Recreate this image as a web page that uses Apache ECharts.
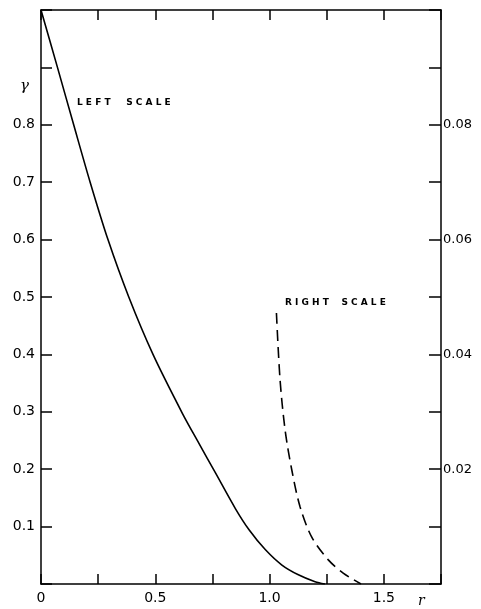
<!DOCTYPE html>
<html>
<head>
<meta charset="utf-8">
<script src="https://cdn.jsdelivr.net/npm/echarts@6/dist/echarts.min.js"></script>
<style>html,body{margin:0;padding:0;background:#fff}#c{width:481px;height:609px}</style>
</head>
<body>
<div id="c"></div>
<script>
// r values and gamma (left scale) for solid curve
var solidR = [0, 0.072, 0.143, 0.215, 0.293, 0.384, 0.49, 0.619, 0.691, 0.764, 0.851, 0.911, 0.981, 1.054, 1.126, 1.199, 1.242];
var solidG = [1.0, 0.9, 0.8, 0.7, 0.6, 0.5, 0.40, 0.297, 0.245, 0.193, 0.131, 0.094, 0.060, 0.033, 0.016, 0.004, 0];
// r values and gamma (right scale) for dashed curve
var dashR = [1.030, 1.046, 1.068, 1.097, 1.133, 1.184, 1.257, 1.322, 1.40];
var dashG = [0.0472, 0.0355, 0.0268, 0.0199, 0.0135, 0.0082, 0.0042, 0.0019, 0];
// tick labels
var xLabels = ['0', '0.5', '1.0', '1.5'];
var leftLabels = ['0.1', '0.2', '0.3', '0.4', '0.5', '0.6', '0.7', '0.8'];
var rightLabels = ['0.02', '0.04', '0.06', '0.08'];

function zip(a, b) { return a.map(function (v, i) { return [v, b[i]]; }); }
function fmtIn(list, digits) {
  return function (v) {
    var t = parseFloat(v.toFixed(3));
    var s = (t === 0) ? '0' : v.toFixed(digits);
    return list.indexOf(s) >= 0 ? s : '';
  };
}

var chart = echarts.init(document.getElementById('c'));
var axisLine = { show: true, onZero: false, lineStyle: { color: '#000', width: 1.5 } };
var tickStyle = { color: '#000', width: 1.5 };
chart.setOption({
  animation: false,
  grid: { left: 41, right: 40, top: 10, bottom: 25, containLabel: false },
  xAxis: [{
    type: 'value', min: 0, max: 1.75, interval: 0.25, position: 'bottom',
    axisLine: axisLine,
    axisTick: { inside: true, length: 10, lineStyle: tickStyle },
    axisLabel: { formatter: function (v) {
      var s = (v === 0) ? '0' : v.toFixed(1);
      return xLabels.indexOf(s) >= 0 ? s : '';
    }, color: '#000', fontSize: 14, fontFamily: 'DejaVu Sans', margin: 7 },
    splitLine: { show: false }
  }, {
    type: 'value', min: 0, max: 1.75, interval: 0.25, position: 'top',
    axisLine: axisLine,
    axisTick: { inside: true, length: 10, lineStyle: tickStyle },
    axisLabel: { show: false },
    splitLine: { show: false }
  }],
  yAxis: [{
    type: 'value', min: 0, max: 1.0, interval: 0.1, position: 'left',
    axisLine: axisLine,
    axisTick: { inside: true, length: 11, lineStyle: tickStyle },
    axisLabel: { formatter: fmtIn(leftLabels, 1), color: '#000', fontSize: 14, fontFamily: 'DejaVu Sans', margin: 6 },
    splitLine: { show: false }
  }, {
    type: 'value', min: 0, max: 0.1, interval: 0.01, position: 'right',
    axisLine: axisLine,
    axisTick: { inside: true, length: 12, lineStyle: tickStyle },
    axisLabel: { formatter: fmtIn(rightLabels, 2), color: '#000', fontSize: 13, fontFamily: 'DejaVu Sans', margin: 2 },
    splitLine: { show: false }
  }],
  series: [{
    type: 'line', xAxisIndex: 0, yAxisIndex: 0, data: zip(solidR, solidG),
    smooth: 0.3, showSymbol: false,
    lineStyle: { color: '#000', width: 1.6 }
  }, {
    type: 'line', xAxisIndex: 0, yAxisIndex: 1, data: zip(dashR, dashG),
    smooth: 0.3, showSymbol: false,
    lineStyle: { color: '#000', width: 1.6, type: [11, 6] }
  }],
  graphic: [
    { type: 'text', left: 77, top: 98, style: { text: 'L E F T     S C A L E', fill: '#000', font: 'bold 9px DejaVu Sans' } },
    { type: 'text', left: 285, top: 298, style: { text: 'R I G H T    S C A L E', fill: '#000', font: 'bold 9px DejaVu Sans' } },
    { type: 'text', left: 20, top: 79, style: { text: 'γ', fill: '#000', font: 'italic 15px DejaVu Serif' } },
    { type: 'text', left: 418, top: 594, style: { text: 'r', fill: '#000', font: 'italic 14px DejaVu Serif' } }
  ]
});
</script>
</body>
</html>
